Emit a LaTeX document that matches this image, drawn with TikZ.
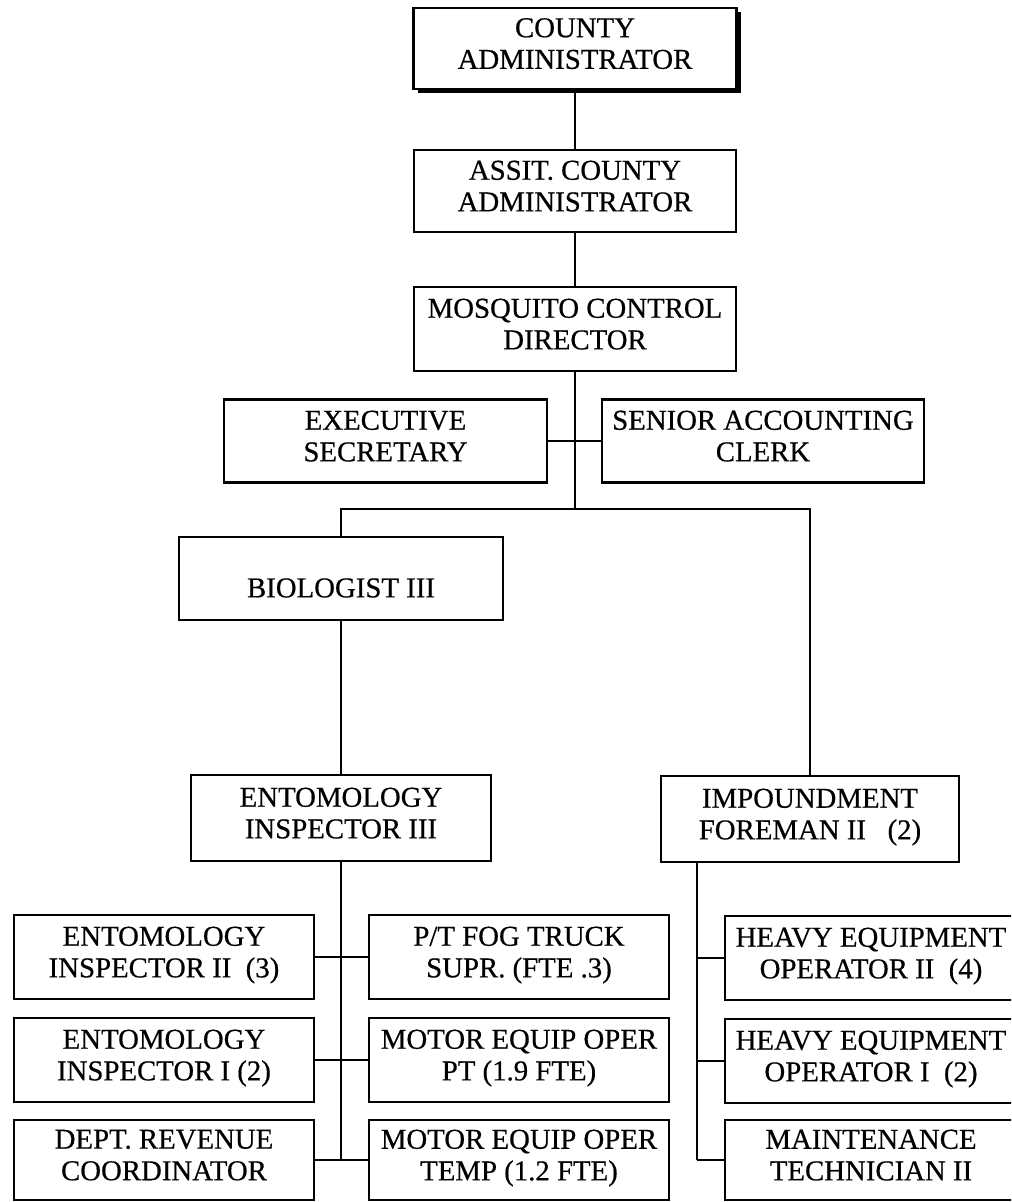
\documentclass[tikz,border=0pt]{standalone}
\usepackage{fontspec}
\setmainfont{Liberation Serif}[FakeBold=0.5]
\usetikzlibrary{calc,shadows}
% depth strut closing the last line of each box, so both lines sit a little above centre
\newcommand{\lastline}{\rule[-7.5pt]{0pt}{0pt}}
\begin{document}
\begin{tikzpicture}[x=0.75pt,y=-0.75pt,
  orgbox/.style 2 args={draw, line width=2pt, fill=white,
    minimum width=#1*0.75pt, minimum height=#2*0.75pt,
    align=center, inner sep=0pt, font=\fontsize{21.6}{23.7}\selectfont},
  link/.style={line width=1.6pt}]
\useasboundingbox (0,0) rectangle (1011,1202);
\clip (0,0) rectangle (1011,1202);

% upper chain of command
\node[orgbox={323}{81}, general shadow={fill=black, shadow xshift=3pt, shadow yshift=-3pt}]
  (county) at (575,48.5) {COUNTY\\ADMINISTRATOR\lastline};
\node[orgbox={322}{82}] (assit) at (575,191) {ASSIT. COUNTY\\ADMINISTRATOR\lastline};
\node[orgbox={322}{84}] (mosq) at (575,329) {MOSQUITO CONTROL\\DIRECTOR\lastline};
\node[orgbox={323}{83}] (exec) at (385.5,441) {EXECUTIVE\\SECRETARY\lastline};
\node[orgbox={322}{83}] (senior) at (763,441) {SENIOR ACCOUNTING\\CLERK\lastline};

% divisions
\node[orgbox={324}{83}] (bio) at (341,578.5) {\rule{0pt}{28.5pt}BIOLOGIST III};
\node[orgbox={300}{86}] (ent3) at (341,818) {ENTOMOLOGY\\INSPECTOR III\lastline};
\node[orgbox={298}{86}] (impound) at (810,819) {IMPOUNDMENT\\FOREMAN II\ \ \ (2)\lastline};

% entomology staff
\node[orgbox={300}{84}] (ent2) at (164,957) {ENTOMOLOGY\\INSPECTOR II\ \ (3)\lastline};
\node[orgbox={300}{84}] (ent1) at (164,1060) {ENTOMOLOGY\\INSPECTOR I (2)\lastline};
\node[orgbox={300}{80}] (dept) at (164,1160) {DEPT. REVENUE\\COORDINATOR\lastline};
\node[orgbox={300}{84}] (fog) at (519,957) {P/T FOG TRUCK\\SUPR. (FTE .3)\lastline};
\node[orgbox={300}{84}] (mpt) at (519,1060) {MOTOR EQUIP OPER\\PT (1.9 FTE)\lastline};
\node[orgbox={300}{80}] (mtemp) at (519,1160) {MOTOR EQUIP OPER\\TEMP (1.2 FTE)\lastline};

% impoundment staff
\node[orgbox={292}{84}] (heavy2) at (871,958) {HEAVY EQUIPMENT\\OPERATOR II\ \ (4)\lastline};
\node[orgbox={292}{84}] (heavy1) at (871,1061) {HEAVY EQUIPMENT\\OPERATOR I\ \ (2)\lastline};
\node[orgbox={292}{80}] (maint) at (871,1160) {MAINTENANCE\\TECHNICIAN II\lastline};

% connectors
\draw[link] (county) -- (assit);
\draw[link] (assit) -- (mosq);
\coordinate (hub) at (575,509);
\draw[link] (mosq.south) -- (hub);
\draw[link] (exec.east) -- (senior.west);
\draw[link] (bio.north) |- (hub) -| (impound.north);
\draw[link] (bio.south) -- (ent3.north);

\draw[link] (ent3.south) -- (ent3.south |- dept.east);
\draw[link] (ent2.east) -- (fog.west);
\draw[link] (ent1.east) -- (mpt.west);
\draw[link] (dept.east) -- (mtemp.west);

\coordinate (rtop) at ($(impound.south west)+(37,0)$);
\draw[link] (rtop) -- (rtop |- maint.west);
\draw[link] (rtop |- heavy2.west) -- (heavy2.west);
\draw[link] (rtop |- heavy1.west) -- (heavy1.west);
\draw[link] (rtop |- maint.west) -- (maint.west);
\end{tikzpicture}
\end{document}
